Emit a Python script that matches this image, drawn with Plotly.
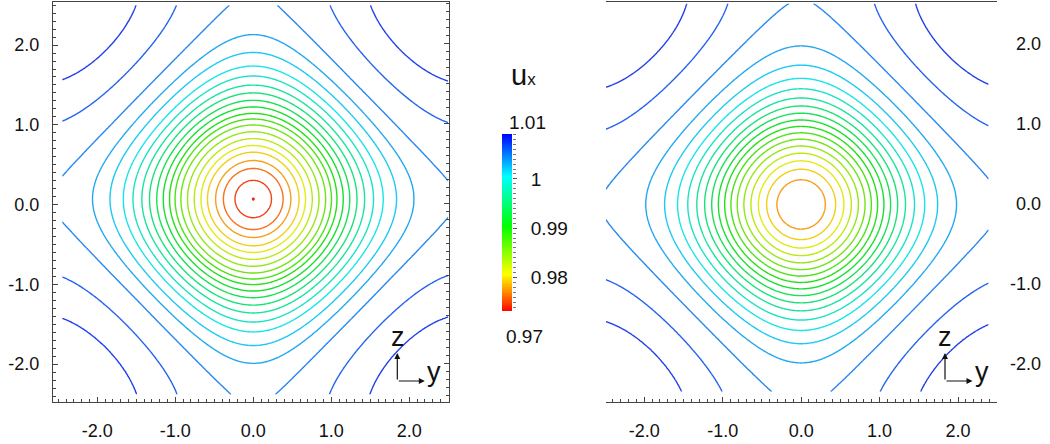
import numpy as np
import plotly.graph_objects as go

W, H = 1050, 444

# ---------------- data ----------------
HALF_PERIOD = 2.77            # distance centre -> saddle of the cos+cos pattern
LEVEL_START = 0.9728          # contour levels (uniform)
LEVEL_STEP = 0.0017
LEVEL_END = 1.0102
CBAR_MIN = 0.9732
CBAR_MAX = 1.0091
AXIS_TICKS = [-2.0, -1.0, 0.0, 1.0, 2.0]
CBAR_TICKS = [0.98, 0.99, 1.0]
CBAR_TICKTEXT = ["0.98", "0.99", "1"]

# left panel (ring radii measured along the y direction from the minimum)
left_ring_radius = [0.233, 0.383, 0.482, 0.587, 0.670, 0.757, 0.843, 0.928, 1.003,
                    1.073, 1.154, 1.237, 1.330, 1.428, 1.542, 1.666, 1.837, 2.060]
left_ring_level = list(range(1, 19))
left_corner_side_offset = [0.29, 0.965, 1.475]   # z-offset where corner lines meet the side edge
left_corner_top_offset = [0.30, 0.995, 1.52]     # y-offset where they meet the top edge
left_corner_level = [19, 20, 21]
left_center = (0.0, 0.07)
left_y_extent = (-2.45, 2.50)
left_z_extent = (-2.38, 2.50)
left_min_value = 0.972795
left_max_value = 1.0100

# right panel
right_ring_radius = [0.31, 0.44, 0.545, 0.64, 0.73, 0.815, 0.895, 0.975, 1.055,
                     1.14, 1.23, 1.33, 1.445, 1.575, 1.74, 1.98]
right_ring_level = list(range(3, 19))
right_corner_side_offset = [0.14, 0.935, 1.45]
right_corner_top_offset = [0.20, 0.94, 1.47]
right_corner_level = [19, 20, 21]
right_center = (0.0, -0.01)
right_y_extent = (-2.49, 2.39)
right_z_extent = (-2.35, 2.50)
right_min_value = 0.9770
right_max_value = 1.0100

BAR_COLORSCALE = [[0.0, "#ff0000"], [0.10, "#ff8000"], [0.21, "#ffff00"],
                  [0.48, "#00ff00"], [0.76, "#00ffff"], [0.88, "#0080ff"], [1.0, "#0000ff"]]
LINE_COLORSCALE = [[0.0, "#f02010"], [0.10, "#f88020"], [0.21, "#f0ec10"],
                   [0.48, "#18e018"], [0.76, "#18e4f0"], [0.88, "#2890f0"], [1.0, "#2038e8"]]

K = np.pi / HALF_PERIOD


def build_field(radius, ring_lv, side_off, top_off, corner_lv, center, yext, zext, umin, umax):
    ys = np.linspace(yext[0], yext[1], 361)
    zs = np.linspace(zext[0], zext[1], 361)
    Y, Z = np.meshgrid(ys, zs)
    yc, zc = center
    h = np.cos(K * (Y - yc)) + np.cos(K * (Z - zc))
    ring_h = 1.0 + np.cos(K * np.asarray(radius))
    side = abs(yext[0] - yc)
    top = zext[1] - zc
    so = np.asarray(side_off)
    to = np.asarray(top_off)
    corner_h = 0.5 * ((np.cos(K * side) + np.cos(K * so)) + (np.cos(K * to) + np.cos(K * top)))
    nodes_h = np.concatenate([[2.0], ring_h, corner_h, [-2.0]])
    levels = [LEVEL_START + n * LEVEL_STEP for n in list(ring_lv) + list(corner_lv)]
    nodes_u = np.concatenate([[umin], levels, [umax]])
    U = np.interp(-h, -nodes_h, nodes_u)
    return ys, zs, U


lys, lzs, LU = build_field(left_ring_radius, left_ring_level, left_corner_side_offset,
                           left_corner_top_offset, left_corner_level, left_center,
                           left_y_extent, left_z_extent, left_min_value, left_max_value)
rys, rzs, RU = build_field(right_ring_radius, right_ring_level, right_corner_side_offset,
                           right_corner_top_offset, right_corner_level, right_center,
                           right_y_extent, right_z_extent, right_min_value, right_max_value)

contour_style = dict(
    contours=dict(start=LEVEL_START, end=LEVEL_END, size=LEVEL_STEP, coloring="lines"),
    autocontour=False,
    line=dict(width=1.4, smoothing=1.0),
    colorscale=LINE_COLORSCALE, zmin=CBAR_MIN, zmax=CBAR_MAX, zauto=False,
    showscale=False, hoverinfo="skip",
)

fig = go.Figure()
fig.add_trace(go.Contour(x=lys, y=lzs, z=LU, xaxis="x", yaxis="y", **contour_style))
fig.add_trace(go.Contour(x=rys, y=rzs, z=RU, xaxis="x2", yaxis="y2", **contour_style))

cb_vals = np.linspace(CBAR_MIN, CBAR_MAX, 300)
fig.add_trace(go.Heatmap(x=[0], y=cb_vals, z=[[v] for v in cb_vals], colorscale=BAR_COLORSCALE,
                         zmin=CBAR_MIN, zmax=CBAR_MAX, showscale=False, hoverinfo="skip",
                         xaxis="x3", yaxis="y3"))

FONT = "Liberation Sans, Arial, sans-serif"
LINE_C = "#444444"


def px_x(p):
    return p / W


def px_y(p):
    return 1 - p / H


def axis(domain, rng, side=None, show_labels=True, standoff=2):
    d = dict(domain=domain, range=rng, showgrid=False, zeroline=False, showline=True,
             linecolor=LINE_C, linewidth=1, mirror=True, ticks="inside", ticklen=5,
             tickwidth=1, tickcolor=LINE_C, tickmode="array", tickvals=AXIS_TICKS,
             ticktext=[f"{t:.1f}" for t in AXIS_TICKS], showticklabels=show_labels,
             tickfont=dict(family=FONT, size=18, color="#111111"),
             ticklabelstandoff=standoff, automargin=False,
             minor=dict(ticks="inside", ticklen=3, tickmode="linear", tick0=0, dtick=0.1,
                        tickcolor=LINE_C, showgrid=False),
             fixedrange=True)
    if side:
        d["side"] = side
    return d


fig.update_layout(
    template="none",
    width=W, height=H, autosize=False,
    margin=dict(l=0, r=0, t=0, b=0, autoexpand=False),
    paper_bgcolor="white", plot_bgcolor="white",
    showlegend=False,
    xaxis=axis([px_x(53), px_x(449)], [-2.568, 2.51], side="bottom", standoff=12),
    yaxis=axis([px_y(402), px_y(2)], [-2.475, 2.54], side="left", standoff=9),
    xaxis2=axis([px_x(606), px_x(997)], [-2.488, 2.497], side="bottom", standoff=12),
    yaxis2=axis([px_y(401), px_y(2)], [-2.467, 2.52], side="right", show_labels=False),
    xaxis3=dict(domain=[px_x(502), px_x(512)], range=[-0.5, 0.5], showticklabels=False,
                showgrid=False, zeroline=False, showline=False, ticks="", fixedrange=True,
                automargin=False),
    yaxis3=dict(domain=[px_y(311), px_y(134)], range=[CBAR_MIN, CBAR_MAX], side="right",
                anchor="x3", showgrid=False, zeroline=False, showline=False,
                ticks="outside", ticklen=4, tickcolor="#555555", tickmode="array",
                tickvals=CBAR_TICKS, ticktext=CBAR_TICKTEXT, ticklabelstandoff=10,
                tickfont=dict(family=FONT, size=19, color="#111111"), automargin=False,
                minor=dict(ticks="outside", ticklen=3, tickmode="linear", tick0=0.97,
                           dtick=0.001, tickcolor="#777777", showgrid=False),
                fixedrange=True),
)

ann = []
# colorbar title and end labels
ann.append(dict(text="u<span style='font-size:17px'>x</span>", x=px_x(509), y=px_y(75),
                xref="paper", yref="paper", xanchor="left", yanchor="middle",
                showarrow=False, font=dict(family=FONT, size=29, color="#111111")))
ann.append(dict(text="1.01", x=px_x(527), y=px_y(122), xref="paper", yref="paper",
                xanchor="center", yanchor="middle", showarrow=False,
                font=dict(family=FONT, size=19, color="#111111")))
ann.append(dict(text="0.97", x=px_x(524), y=px_y(336), xref="paper", yref="paper",
                xanchor="center", yanchor="middle", showarrow=False,
                font=dict(family=FONT, size=19, color="#111111")))
# right-panel tick labels (right aligned)
for t in AXIS_TICKS:
    ann.append(dict(text=f"{t:.1f}", x=px_x(1043), y=t, xref="paper", yref="y2",
                    xanchor="right", yanchor="middle", showarrow=False,
                    font=dict(family=FONT, size=18, color="#111111")))

# coordinate triads
for ox, zx, yx in [(397.3, 398, 434), (945, 945, 982)]:
    ann.append(dict(text="z", x=px_x(zx), y=px_y(337), xref="paper", yref="paper",
                    xanchor="center", yanchor="middle", showarrow=False,
                    font=dict(family=FONT, size=27, color="#111111")))
    ann.append(dict(text="y", x=px_x(yx), y=px_y(372), xref="paper", yref="paper",
                    xanchor="center", yanchor="middle", showarrow=False,
                    font=dict(family=FONT, size=27, color="#111111")))
    ann.append(dict(text="", x=px_x(ox), y=px_y(353), xref="paper", yref="paper",
                    ax=0, ay=28, showarrow=True, arrowhead=2, arrowsize=1, arrowwidth=1.2,
                    arrowcolor="#111111", standoff=0, startstandoff=0))
    ann.append(dict(text="", x=px_x(ox + 27.5), y=px_y(381), xref="paper", yref="paper",
                    ax=-27.5, ay=0, showarrow=True, arrowhead=2, arrowsize=1, arrowwidth=1.2,
                    arrowcolor="#111111", standoff=0, startstandoff=0))

fig.update_layout(annotations=ann)
fig.write_html("out.html",
               config={"displayModeBar": False},
               post_script="document.body.style.margin='0';document.body.style.padding='0';")
